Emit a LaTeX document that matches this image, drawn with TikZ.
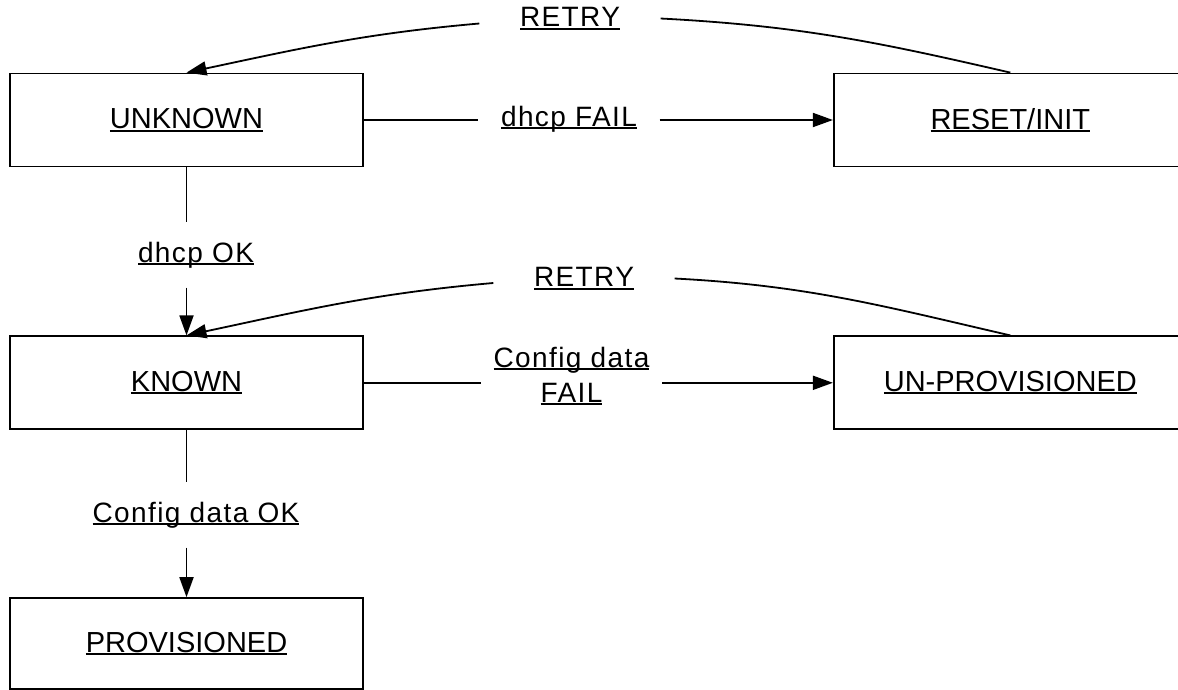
\documentclass[tikz,border=0pt]{standalone}
\usepackage{fontspec}
\setmainfont{Liberation Sans}
\usetikzlibrary{positioning,arrows.meta}
\newcommand{\ultext}[1]{\setbox0=\hbox{#1}\rlap{\rule[-3pt]{\wd0}{2pt}}\box0}
\begin{document}
\begin{tikzpicture}[x=1pt,y=-1pt,
		statebox/.style={draw,line width=1.8pt,minimum width=353pt,minimum height=93pt,inner sep=0pt,font=\fontsize{29}{34}\selectfont},
		translabel/.style={inner sep=0pt,align=center,font=\fontsize{28}{35}\selectfont\addfontfeature{LetterSpace=5}},
		hlabel/.style={translabel,minimum width=181pt},
		vlabel/.style={translabel,minimum height=65pt},
		link/.style={line width=1.8pt},
		>={Triangle[length=20pt,width=14pt]}]
		\useasboundingbox (0,0) rectangle (1178,689);
		
		% states
		\node[statebox] (unknown) at (186.5,120) {\ultext{UNKNOWN}};
		\node[statebox,right=469pt of unknown] (reset) {\ultext{RESET/INIT}};
		\node[statebox,below=168pt of unknown] (known) {\ultext{KNOWN}};
		\node[statebox,right=469pt of known] (unprov) {\ultext{UN-PROVISIONED}};
		\node[statebox,minimum height=91pt,below=167pt of known] (prov) {\ultext{PROVISIONED}};
		
		% transition labels
		\node[hlabel] (dhcpfail) at (569,119) {\ultext{dhcp FAIL}};
		\node[vlabel] (dhcpok) at (196,255) {\ultext{dhcp OK}};
		\node[hlabel] (cfgfail) at (571.5,376) {\ultext{Config data}\\\ultext{FAIL}};
		\node[vlabel] (cfgok) at (196,515) {\ultext{Config data OK}};
		\node[hlabel] (retrytop) at (570,18.5) {\ultext{RETRY}};
		\node[hlabel] (retrymid) at (584,278.5) {\ultext{RETRY}};
		
		% unknown -> reset / known
		\draw[link] (unknown.east)--(unknown.east -| dhcpfail.west);
		\draw[link,->] (reset.west -| dhcpfail.east)--(reset.west);
		\draw[link] (unknown.south)--(unknown.south |- dhcpok.north);
		\draw[link,->] (unknown.south |- dhcpok.south)--(known.north);
		
		% known -> unprov / prov
		\draw[link] (known.east)--(known.east -| cfgfail.west);
		\draw[link,->] (unprov.west -| cfgfail.east)--(unprov.west);
		\draw[link] (known.south)--(known.south |- cfgok.north);
		\draw[link,->] (known.south |- cfgok.south)--(prov.north);
		
		% retry arcs
		\draw[link] (reset.north) to[out=167,in=-3] (retrytop.east);
		\draw[link,->] ([yshift=-5pt]retrytop.west) to[out=185,in=12] (unknown.north);
		\draw[link] (unprov.north) to[out=167,in=-3] (retrymid.east);
		\draw[link,->] ([yshift=-4.5pt]retrymid.west) to[out=185,in=12] (known.north);
	\end{tikzpicture}
\end{document}
